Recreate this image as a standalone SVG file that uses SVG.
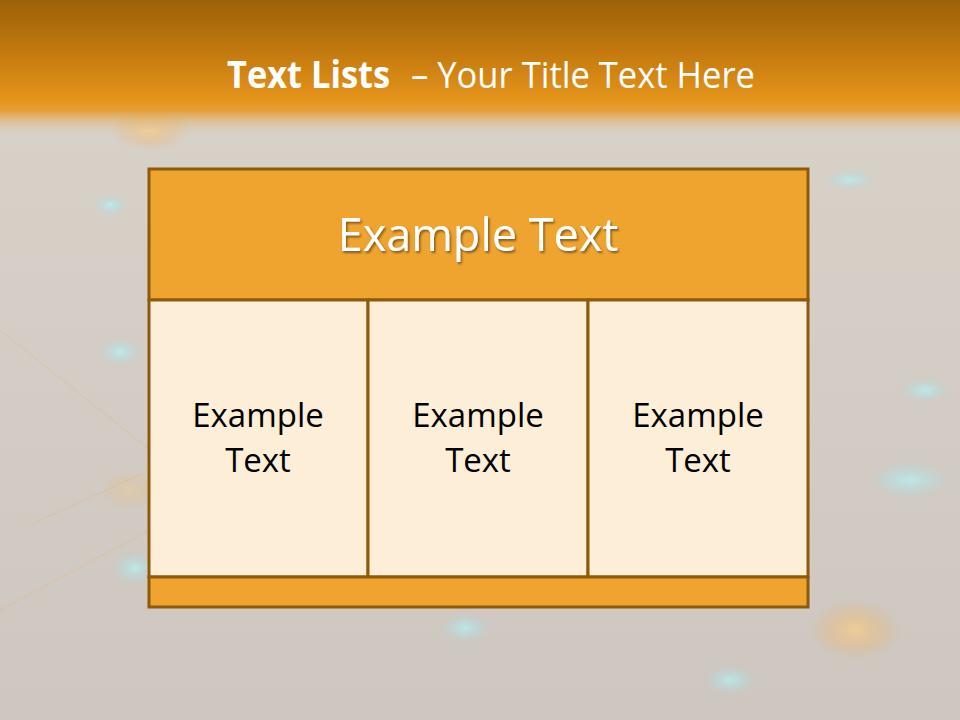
<svg xmlns="http://www.w3.org/2000/svg" width="960" height="720" viewBox="0 0 960 720">
<defs>
<linearGradient id="bg" x1="0" y1="0" x2="0" y2="1">
<stop offset="0" stop-color="#d9d3ca"/>
<stop offset="1" stop-color="#cdc7c0"/>
</linearGradient>
<linearGradient id="band" x1="0" y1="0" x2="0" y2="1">
<stop offset="0" stop-color="#9c6108"/>
<stop offset="0.45" stop-color="#c97e10"/>
<stop offset="0.75" stop-color="#e6951c"/>
<stop offset="0.82" stop-color="#e69a2a" stop-opacity="0.9"/>
<stop offset="1" stop-color="#e0c9a8" stop-opacity="0"/>
</linearGradient>
<radialGradient id="cyan">
<stop offset="0" stop-color="#b8f2f6" stop-opacity="0.9"/>
<stop offset="1" stop-color="#9fe0ea" stop-opacity="0"/>
</radialGradient>
<radialGradient id="amber">
<stop offset="0" stop-color="#ffd080" stop-opacity="0.8"/>
<stop offset="1" stop-color="#f0a040" stop-opacity="0"/>
</radialGradient>
<filter id="sh" x="-10%" y="-10%" width="120%" height="130%">
<feDropShadow dx="1.5" dy="2" stdDeviation="1.2" flood-color="#000" flood-opacity="0.45"/>
</filter>
<style>
.cell{fill:#fdeed8;stroke:#8c5a09;stroke-width:3}
.bar{fill:#f0a430;stroke:#8c5a09;stroke-width:3}
.t{font-family:"Open Sans","Liberation Sans",sans-serif;text-anchor:middle}
.ct{font-size:33px;fill:#000}
.ti{font-family:"Open Sans","Liberation Sans",sans-serif;font-size:37px;fill:#fff}
</style>
</defs>
<rect width="960" height="720" fill="url(#bg)"/>
<g opacity="0.8">
<ellipse cx="120" cy="352" rx="22" ry="14" fill="url(#cyan)"/>
<ellipse cx="135" cy="568" rx="22" ry="16" fill="url(#cyan)"/>
<ellipse cx="110" cy="205" rx="18" ry="10" fill="url(#cyan)"/>
<ellipse cx="465" cy="628" rx="25" ry="14" fill="url(#cyan)"/>
<ellipse cx="730" cy="680" rx="25" ry="14" fill="url(#cyan)"/>
<ellipse cx="910" cy="480" rx="40" ry="18" fill="url(#cyan)"/>
<ellipse cx="850" cy="180" rx="25" ry="10" fill="url(#cyan)"/>
<ellipse cx="925" cy="390" rx="25" ry="12" fill="url(#cyan)"/>
<ellipse cx="855" cy="630" rx="45" ry="30" fill="url(#amber)"/>
<ellipse cx="150" cy="130" rx="40" ry="20" fill="url(#amber)"/>
<ellipse cx="130" cy="490" rx="30" ry="20" fill="url(#amber)" opacity="0.5"/>
</g>
<g stroke="#e8b47a" stroke-width="1" opacity="0.45" fill="none">
<line x1="0" y1="330" x2="150" y2="450"/>
<line x1="0" y1="610" x2="150" y2="530"/>
<line x1="30" y1="525" x2="150" y2="470"/>
</g>
<rect width="960" height="135" fill="url(#band)"/>
<g id="title">
<text class="ti" x="227" y="88" font-weight="bold" textLength="163" lengthAdjust="spacingAndGlyphs">Text Lists</text>
<text class="ti" x="411" y="88" textLength="344" lengthAdjust="spacingAndGlyphs">– Your Title Text Here</text>
</g>
<g id="header">
<rect class="bar" x="149" y="169" width="659" height="131"/>
<text class="t" x="478" y="251" font-size="45" fill="#fff" filter="url(#sh)">Example Text</text>
</g>
<g id="cell1">
<rect class="cell" x="149" y="300" width="219" height="277"/>
<text class="t ct" x="258" y="427">Example</text>
<text class="t ct" x="258" y="472">Text</text>
</g>
<g id="cell2">
<rect class="cell" x="368" y="300" width="220" height="277"/>
<text class="t ct" x="478" y="427">Example</text>
<text class="t ct" x="478" y="472">Text</text>
</g>
<g id="cell3">
<rect class="cell" x="588" y="300" width="220" height="277"/>
<text class="t ct" x="698" y="427">Example</text>
<text class="t ct" x="698" y="472">Text</text>
</g>
<g id="footer">
<rect class="bar" x="149" y="577" width="659" height="30"/>
</g>
<g id="connectors"/>
</svg>
